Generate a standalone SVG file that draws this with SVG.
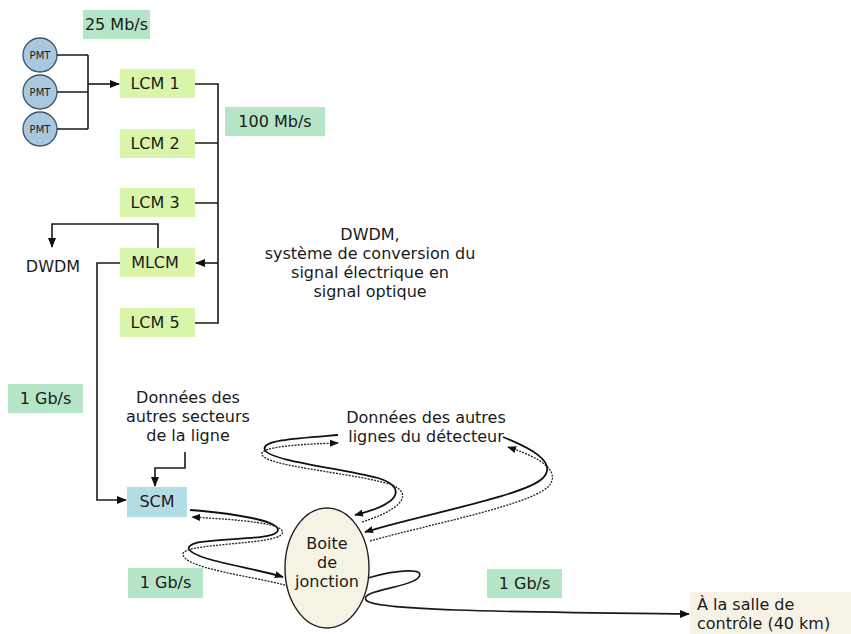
<svg xmlns="http://www.w3.org/2000/svg" width="851" height="634" viewBox="0 0 851 634">
<style>
text{font-family:"DejaVu Sans","Verdana",sans-serif;font-size:16px;fill:#1a1a1a}
.c{text-anchor:middle}
.rate{fill:#b5e5c6}
.lcm{fill:#d9f5a9}
.pmt{fill:#a9c8df;stroke:#3b5568;stroke-width:1.3}
.ln{fill:none;stroke:#1a1a1a;stroke-width:1.6}
.sol{fill:none;stroke:#111;stroke-width:1.8}
.dot{fill:none;stroke:#222;stroke-width:1.3;stroke-dasharray:2 1.2}
</style>
<defs>
<marker id="ah" viewBox="0 0 10 10" refX="9" refY="5" markerWidth="10" markerHeight="10" markerUnits="userSpaceOnUse" orient="auto">
<path d="M0,1 L10,5 L0,9 z" fill="#111"/>
</marker>
<marker id="ahs" viewBox="0 0 10 10" refX="9" refY="5" markerWidth="9" markerHeight="9" markerUnits="userSpaceOnUse" orient="auto">
<path d="M0,1 L10,5 L0,9 z" fill="#111"/>
</marker>
</defs>

<g id="label-25">
<rect class="rate" x="83" y="10" width="67" height="29"/>
<text x="116.5" y="30" class="c">25 Mb/s</text>
</g>
<g id="label-100">
<rect class="rate" x="225" y="107" width="100" height="29"/>
<text x="275" y="127" class="c">100 Mb/s</text>
</g>
<g id="label-1g-a">
<rect class="rate" x="8" y="384" width="75" height="29"/>
<text x="45.5" y="404" class="c">1 Gb/s</text>
</g>
<g id="label-1g-b">
<rect class="rate" x="128" y="568" width="75" height="30"/>
<text x="165.5" y="588" class="c">1 Gb/s</text>
</g>
<g id="label-1g-c">
<rect class="rate" x="487" y="569" width="75" height="29"/>
<text x="524.5" y="589" class="c">1 Gb/s</text>
</g>

<g id="pmt1"><circle class="pmt" cx="40" cy="55" r="17"/><text x="40" y="59" class="c" style="font-size:10px">PMT</text></g>
<g id="pmt2"><circle class="pmt" cx="40" cy="92" r="17"/><text x="40" y="96" class="c" style="font-size:10px">PMT</text></g>
<g id="pmt3"><circle class="pmt" cx="40" cy="129" r="17"/><text x="40" y="133" class="c" style="font-size:10px">PMT</text></g>

<g id="lcm1"><rect class="lcm" x="120" y="69" width="75" height="29"/><text x="155" y="89" class="c">LCM 1</text></g>
<g id="lcm2"><rect class="lcm" x="120" y="129" width="75" height="29"/><text x="155" y="149" class="c">LCM 2</text></g>
<g id="lcm3"><rect class="lcm" x="120" y="188" width="75" height="29"/><text x="155" y="208" class="c">LCM 3</text></g>
<g id="mlcm"><rect class="lcm" x="120" y="248" width="75" height="29"/><text x="155" y="268" class="c">MLCM</text></g>
<g id="lcm5"><rect class="lcm" x="120" y="308" width="75" height="29"/><text x="155" y="328" class="c">LCM 5</text></g>

<g id="dwdm"><text x="53" y="272" class="c">DWDM</text></g>
<g id="dwdm-note">
<text x="370" y="240" class="c">DWDM,</text>
<text x="370" y="259" class="c">système de conversion du</text>
<text x="370" y="278" class="c">signal électrique en</text>
<text x="370" y="297" class="c">signal optique</text>
</g>
<g id="autres-secteurs">
<text x="188" y="403" class="c">Données des</text>
<text x="188" y="422" class="c">autres secteurs</text>
<text x="188" y="441" class="c">de la ligne</text>
</g>
<g id="autres-lignes">
<text x="426" y="423" class="c">Données des autres</text>
<text x="426" y="442" class="c">lignes du détecteur</text>
</g>
<g id="scm"><rect x="127" y="487" width="60" height="30" fill="#b4dce5"/><text x="157" y="507" class="c">SCM</text></g>
<g id="boite">
<ellipse cx="327" cy="568" rx="42" ry="60" fill="#f5f3e4" stroke="#222" stroke-width="1.4"/>
<text x="327" y="549" class="c">Boite</text>
<text x="327" y="568" class="c">de</text>
<text x="327" y="587" class="c">jonction</text>
</g>
<g id="salle">
<rect x="690" y="592" width="161" height="42" fill="#f6f3e6"/>
<text x="697" y="610">À la salle de</text>
<text x="697" y="629">contrôle (40 km)</text>
</g>

<g id="connectors">
<path class="ln" d="M57,55 H88 M57,92 H88 M57,129 H88 M88,55 V129"/>
<path class="ln" d="M88,84 H119" marker-end="url(#ah)"/>
<path class="ln" d="M195,84 H218 V323 H195 M195,143 H218 M195,203 H218"/>
<path class="ln" d="M218,263 H196" marker-end="url(#ah)"/>
<path class="ln" d="M158,248 V224 H52 V247" marker-end="url(#ah)"/>
<path class="ln" d="M120,263 H97 V500 H126" marker-end="url(#ah)"/>
<path class="ln" d="M185,452 V468 H155 V486" marker-end="url(#ah)"/>

<path class="sol" d="M190,510 C240,514 285,522 277,532 C270,542 184,536 189,549 C194,560 250,567 283,577" marker-end="url(#ahs)"/>
<path class="dot" d="M285,585 C250,576 183,568 183,554 C183,543 275,545 282,534 C288,523 240,520 192,517" marker-end="url(#ahs)"/>

<path class="sol" d="M338,435 C300,438 260,440 265,450 C270,461 340,468 378,478 C402,485 408,502 355,515" marker-end="url(#ahs)"/>
<path class="dot" d="M362,522 C415,505 410,488 382,482 C342,472 268,466 262,455 C258,447 300,444 338,443" marker-end="url(#ahs)"/>

<path class="sol" d="M503,437 C530,448 558,462 543,478 C525,496 420,515 365,532" marker-end="url(#ahs)"/>
<path class="dot" d="M370,541 C430,524 542,503 551,483 C559,467 532,455 508,447" marker-end="url(#ahs)"/>

<path class="ln" d="M368,578 C395,570 428,567 418,578 C408,588 360,590 366,600 C372,611 520,612 689,614" marker-end="url(#ah)"/>
</g>
</svg>
